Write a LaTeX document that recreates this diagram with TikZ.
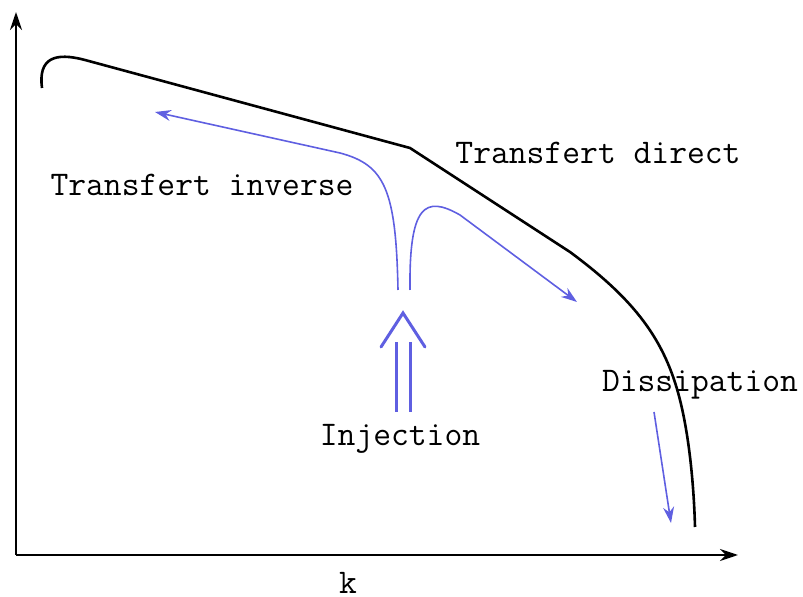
\documentclass[tikz,border=0pt]{standalone}
\usepackage{fontspec}
\usepackage{tikz}
\usetikzlibrary{arrows.meta, positioning}
\definecolor{fluxblue}{RGB}{95,95,225}

\begin{document}
\begin{tikzpicture}[
  x=0.5pt, y=-0.5pt,
  axis/.style={line width=1.2pt, -{Stealth[length=9pt, width=6pt]}},
  spectrum/.style={line width=1.3pt},
  flux/.style={fluxblue, line width=0.8pt, -{Stealth[length=8pt, width=5.5pt]}},
  inject/.style={fluxblue, line width=1.5pt},
  label/.style={font=\ttfamily\fontsize{17.3}{20}\selectfont, inner sep=0pt}
]
\useasboundingbox (0,0) rectangle (803,597);
% axes
\coordinate (O) at (16,555);
\coordinate (ytop) at (16,12);
\coordinate (xend) at (738,555);
\draw[axis] (O) -- (ytop);
\draw[axis] (O) -- (xend);
\node[label] (k) at (348,583) {k};

% energy spectrum
\coordinate (s0) at (42,88);
\coordinate (speak) at (85,60);
\coordinate (knee) at (410,148);
\coordinate (s1) at (570,252);
\coordinate (s2) at (680,400);
\coordinate (s3) at (695,527);
\draw[spectrum] (s0) .. controls (38,58) and (55,52) .. (speak)
  -- (knee) -- (s1) .. controls (635,300) and (665,340) .. (s2)
  .. controls (690,440) and (694,490) .. (s3);

% fluxes
\coordinate (invstart) at (398,290);
\coordinate (invmid) at (340,153);
\coordinate (invend) at (155,112);
\coordinate (dirstart) at (410,290);
\coordinate (dirmid) at (460,215);
\coordinate (dirend) at (577,302);
\draw[flux] (invstart) .. controls (396,190) and (385,165) .. (invmid) -- (invend);
\draw[flux] (dirstart) .. controls (409,205) and (425,195) .. (dirmid) -- (dirend);

% injection
\coordinate (apex) at (403,313);
\draw[inject] (396,412) -- (396,342);
\draw[inject] (410,412) -- (410,342);
\draw[inject, line cap=round] (381,347) -- (apex) -- (425,347);

% dissipation
\coordinate (disstart) at (654,412);
\coordinate (disend) at (671,523);
\draw[flux] (disstart) -- (disend);

\node[label] (direct) at (598,153) {Transfert direct};
\node[label] (inverse) at (202,185) {Transfert inverse};
\node[label] (dissip) at (700,385) {Dissipation};
\node[label] (injection) at (400,439) {Injection};
\end{tikzpicture}
\end{document}
